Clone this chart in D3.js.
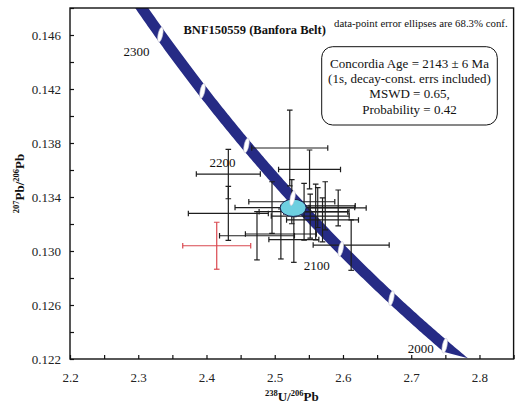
<!DOCTYPE html>
<html><head><meta charset="utf-8">
<script src="https://cdn.jsdelivr.net/npm/d3@7/dist/d3.min.js"></script>
<style>
html,body{margin:0;padding:0;background:#fff;}
svg text{font-family:"Liberation Serif","Times New Roman","DejaVu Serif",serif !important;}
</style></head>
<body>
<svg id="chart" width="518" height="410"></svg>
<script>
// ---- data ----
const xTicks = [2.2, 2.3, 2.4, 2.5, 2.6, 2.7, 2.8];
const yTicks = [0.122, 0.126, 0.130, 0.134, 0.138, 0.142, 0.146];
const markerAges = [2000, 2050, 2100, 2150, 2200, 2250, 2300];
const labelAges = [2000, 2100, 2200, 2300];
// analyses used in the concordia age
const ptX = [2.432, 2.432, 2.522, 2.551, 2.612, 2.525, 2.496, 2.563, 2.593, 2.552, 2.570, 2.509, 2.474, 2.528, 2.543, 2.574, 2.560];
const ptY = [0.13570, 0.13278, 0.13763, 0.13604, 0.13044, 0.13365, 0.13322, 0.13322, 0.13319, 0.13259, 0.13230, 0.13126, 0.13113, 0.13085, 0.13291, 0.13335, 0.13289];
const ptXErr = [0.0469, 0.0586, 0.0557, 0.0454, 0.0557, 0.0630, 0.0542, 0.0542, 0.0410, 0.0571, 0.0527, 0.0520, 0.0549, 0.0366, 0.0659, 0.0440, 0.0469];
const ptYErr = [0.00183, 0.00200, 0.00281, 0.00144, 0.00187, 0.00163, 0.00191, 0.00148, 0.00133, 0.00163, 0.00163, 0.00185, 0.00179, 0.00169, 0.00210, 0.00178, 0.00207];
// excluded analysis (red)
const exX = [2.415];
const exY = [0.13039];
const exXErr = [0.0498];
const exYErr = [0.00174];
// concordia age ellipse
const concX = 2.527, concY = 0.1332, concRx = 0.019, concRy = 0.00064;
const titleText = "BNF150559 (Banfora Belt)";
const noteText = "data-point error ellipses are 68.3% conf.";
const boxLines = ["Concordia Age = 2143 \u00b1 6 Ma", "(1s, decay-const. errs included)", "MSWD = 0.65,", "Probability = 0.42"];
// decay constants (per year) and U ratio for the Tera-Wasserburg concordia
const L238 = 1.55125e-10, L235 = 9.8485e-10, U85 = 137.88;

// ---- layout ----
const FONT = "'Liberation Serif', 'Times New Roman', 'DejaVu Serif', serif";
const svg = d3.select("#chart");
const L = 70, R = 513.6, T = 8, B = 359;
const x = d3.scaleLinear().domain([2.2, 2.85]).range([L, R]);
const y = d3.scaleLinear().domain([0.122, 0.148]).range([B, T]);

function conc(tMa){
  const t = tMa * 1e6;
  const e8 = Math.exp(L238 * t) - 1, e5 = Math.exp(L235 * t) - 1;
  return [1 / e8, e5 / e8 / U85];
}
function px(tMa){ const c = conc(tMa); return [x(c[0]), y(c[1])]; }

svg.append("defs").append("clipPath").attr("id","plotclip")
  .append("rect").attr("x",L).attr("y",T).attr("width",R-L).attr("height",B-T);

const plot = svg.append("g").attr("clip-path","url(#plotclip)");

// concordia band
const halfW = 5.4;
function edge(t0, t1, sign){
  const pts = [];
  for (let t = t0; t <= t1 + 1e-9; t += 2){
    const p = px(t), a = px(t - 1), b = px(t + 1);
    let dx = b[0]-a[0], dy = b[1]-a[1];
    const n = Math.hypot(dx, dy); dx/=n; dy/=n;
    pts.push([p[0] + sign*(-dy)*halfW, p[1] + sign*(dx)*halfW]);
  }
  return pts;
}
const right = edge(1982, 2400, 1);
const left = edge(1998, 2400, -1);
const poly = right.concat(left.reverse());
plot.append("path").attr("d", d3.line()(poly) + "Z").attr("fill", "#262b85");

// error crosses
function cross(g, cx, cy, ex, ey, col){
  const x0 = x(cx - ex), x1 = x(cx + ex), yc = y(cy);
  const y0 = y(cy - ey), y1 = y(cy + ey), xc = x(cx);
  const c = 2.8;
  const gg = g.append("g").attr("stroke", col).attr("stroke-width", 1.2).attr("fill","none");
  gg.append("line").attr("x1",x0).attr("x2",x1).attr("y1",yc).attr("y2",yc);
  gg.append("line").attr("x1",xc).attr("x2",xc).attr("y1",y0).attr("y2",y1);
  gg.append("line").attr("x1",x0).attr("x2",x0).attr("y1",yc-c).attr("y2",yc+c);
  gg.append("line").attr("x1",x1).attr("x2",x1).attr("y1",yc-c).attr("y2",yc+c);
  gg.append("line").attr("x1",xc-c).attr("x2",xc+c).attr("y1",y0).attr("y2",y0);
  gg.append("line").attr("x1",xc-c).attr("x2",xc+c).attr("y1",y1).attr("y2",y1);
}
ptX.forEach((v,i) => cross(plot, v, ptY[i], ptXErr[i], ptYErr[i], "#1e1e1e"));
exX.forEach((v,i) => cross(plot, v, exY[i], exXErr[i], exYErr[i], "#d9484f"));

// concordia age ellipse
plot.append("ellipse")
  .attr("cx", x(concX)).attr("cy", y(concY))
  .attr("rx", x(concX + concRx) - x(concX)).attr("ry", y(concY) - y(concY + concRy))
  .attr("fill", "#6dcfe0").attr("stroke", "#1b2050").attr("stroke-width", 1);

// age markers
markerAges.forEach(a => {
  const p = px(a);
  plot.append("ellipse").attr("cx",0).attr("cy",0).attr("rx",2.3).attr("ry",7.6)
    .attr("transform",`translate(${p[0]},${p[1]}) rotate(12)`)
    .attr("fill","#fff").attr("stroke","#c8c8d8").attr("stroke-width",0.6);
});
labelAges.forEach(a => {
  const p = px(a);
  const ly = Math.min(p[1] + 17, 348);
  svg.append("text").attr("x", p[0]-24).attr("y", ly + 4.5).attr("text-anchor","middle")
    .attr("font-family", FONT).attr("font-size", 13).attr("fill","#111").text(a);
});

// axes
const xAxis = d3.axisBottom(x).tickValues(d3.range(2.2, 2.851, 0.05)).tickSizeInner(-4).tickSizeOuter(0).tickPadding(14)
  .tickFormat(d => xTicks.some(t => Math.abs(t-d) < 1e-6) ? d3.format(".1f")(d) : "");
const yAxis = d3.axisLeft(y).tickValues(d3.range(0.122, 0.1481, 0.002)).tickSizeInner(-4).tickSizeOuter(0).tickPadding(9)
  .tickFormat(d => yTicks.some(t => Math.abs(t-d) < 1e-7) ? d3.format(".3f")(d) : "");
const gx = svg.append("g").attr("transform",`translate(0,${B})`).call(xAxis);
const gy = svg.append("g").attr("transform",`translate(${L},0)`).call(yAxis);
[gx, gy].forEach(g => {
  g.attr("font-family", FONT);
  g.select(".domain").remove();
  g.selectAll("line").attr("stroke","#111").attr("stroke-width",1.2);
  g.selectAll("text").attr("font-family", FONT).attr("font-size",13).attr("fill","#222");
});
svg.append("rect").attr("x",L).attr("y",T).attr("width",R-L).attr("height",B-T)
  .attr("fill","none").attr("stroke","#111").attr("stroke-width",1.4);

// axis titles
const xt = svg.append("text").attr("x",(L+R)/2).attr("y",401).attr("text-anchor","middle")
  .attr("font-family", FONT).attr("font-weight","bold").attr("font-size",13).attr("fill","#111");
xt.append("tspan").attr("font-size",8.5).attr("dy",-5).text("238");
xt.append("tspan").attr("dy",5).text("U/");
xt.append("tspan").attr("font-size",8.5).attr("dy",-5).text("206");
xt.append("tspan").attr("dy",5).text("Pb");

const yt = svg.append("text").attr("transform",`translate(24,${(T+B)/2}) rotate(-90)`).attr("text-anchor","middle")
  .attr("font-family", FONT).attr("font-weight","bold").attr("font-size",13).attr("fill","#111");
yt.append("tspan").attr("font-size",8.5).attr("dy",-5).text("207");
yt.append("tspan").attr("dy",5).text("Pb/");
yt.append("tspan").attr("font-size",8.5).attr("dy",-5).text("206");
yt.append("tspan").attr("dy",5).text("Pb");

// title and note
svg.append("text").attr("x",254.7).attr("y",33.5).attr("text-anchor","middle")
  .attr("font-family", FONT).attr("font-weight","bold").attr("font-size",12.5).attr("fill","#111").text(titleText);
svg.append("text").attr("x",334).attr("y",27).attr("text-anchor","start")
  .attr("font-family", FONT).attr("font-size",10.8).attr("fill","#111").text(noteText);

// info box
svg.append("rect").attr("x",321.7).attr("y",46.7).attr("width",175.6).attr("height",78.3)
  .attr("rx",11).attr("ry",11).attr("fill","#fff").attr("stroke","#111").attr("stroke-width",1);
boxLines.forEach((s,i) => {
  svg.append("text").attr("x",409.5).attr("y",68 + i*15.2).attr("text-anchor","middle")
    .attr("font-family", FONT).attr("font-size",13).attr("fill","#111").text(s);
});
</script>
</body></html>
